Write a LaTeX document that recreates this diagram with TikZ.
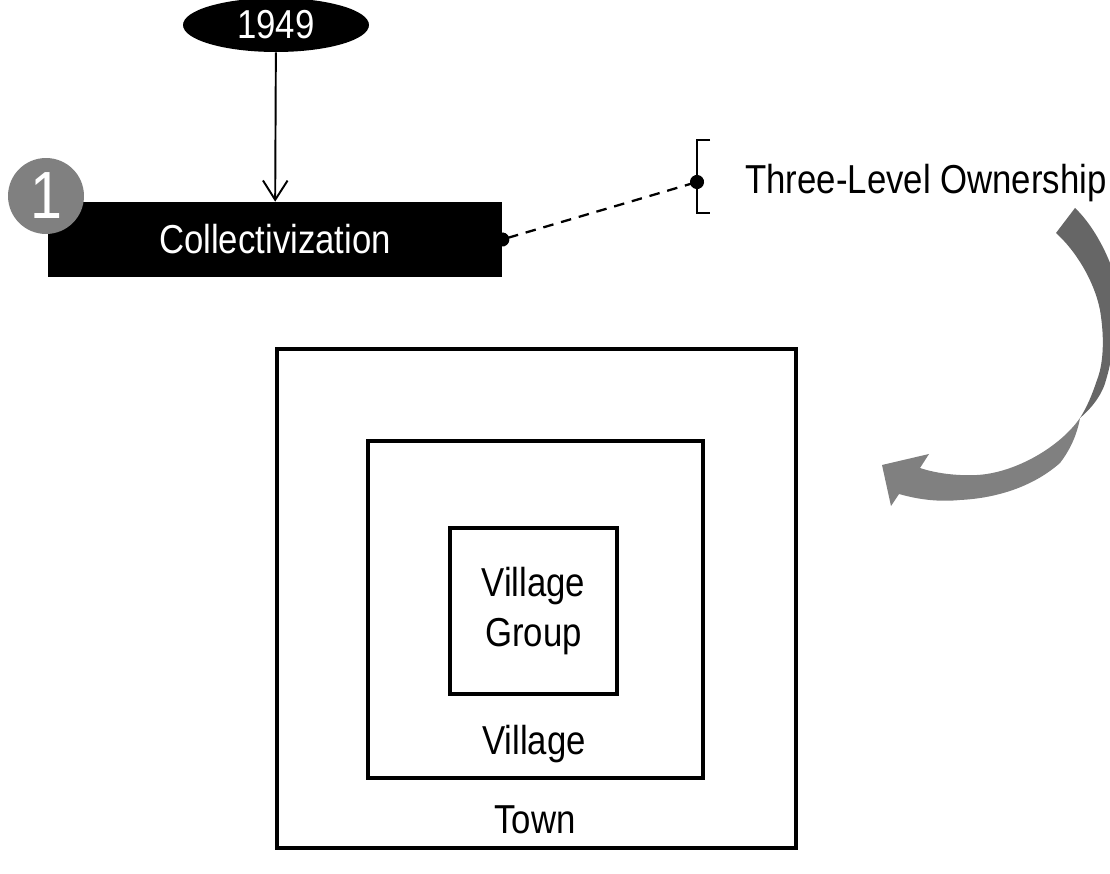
\documentclass[tikz,border=0pt]{standalone}
\usepackage{fontspec}
\setmainfont[FakeStretch=0.86]{Liberation Sans}
\usetikzlibrary{shapes, arrows.meta, positioning}
\definecolor{stepgray}{HTML}{808080}
\definecolor{arrowdark}{HTML}{666666}
\definecolor{arrowlight}{HTML}{808080}
\tikzset{
    base/.style={font=\fontsize{23}{28.5}\selectfont, align=center, inner sep=0pt},
    darkbox/.style={base, rectangle, fill=black, text=white, minimum width=9.08cm, minimum height=1.5cm},
    darkoval/.style={base, ellipse, fill=black, text=white, minimum width=3.72cm, minimum height=1.08cm},
    numdot/.style={base, circle, fill=stepgray, text=white, minimum size=1.52cm, font=\fontsize{38}{38}\selectfont},
    square/.style={base, rectangle, draw=black, line width=2.3pt},
    line/.style={draw=black, line width=1.1pt, -{Straight Barb[length=11pt, width=14pt]}},
    dashed-line/.style={draw=black, line width=1.3pt, dash pattern=on 6pt off 4.5pt,
        {Circle[length=8pt]}-{Circle[length=8pt]}, shorten <=-4pt, shorten >=-4pt},
    bracket/.style={draw=black, line width=1.2pt}
}
\begin{document}
\begin{tikzpicture}[x=0.02cm, y=-0.02cm]
    \useasboundingbox (0,0) rectangle (1110,874);

    % top: year, step and ownership note
    \node [darkoval] (Year) at (276,25) {1949};
    \node [darkbox] (Collect) at (275,239.5) {Collectivization};
    \node [numdot] (Step) at (46,196) {1};
    \draw [line] (Year) -- (Collect);

    \coordinate (brk) at (697,182);
    \draw [bracket] (710,140) -- (697,140) -- (697,213) -- (710,213);
    \node [base, anchor=west] (Own) at (745,183) {Three-Level Ownership};
    \draw [dashed-line] (Collect.east) -- (brk);

    % curved arrow (ribbon with twist)
    \begin{scope}
        \clip (0,0) rectangle (1110,874);
        \fill [arrowdark] (1056,233) .. controls (1075,250) and (1094,280) .. (1100,310)
            .. controls (1105,340) and (1103,365) .. (1097,380)
            .. controls (1092,395) and (1087,407) .. (1080,418)
            .. controls (1095,405) and (1103,392) .. (1106,380)
            .. controls (1118,340) and (1118,290) .. (1110,263)
            .. controls (1103,245) and (1090,222) .. (1075,208) -- cycle;
        \fill [arrowlight] (1080,418) .. controls (1060,447) and (1015,473) .. (977,475)
            .. controls (955,476) and (935,473) .. (920,468)
            -- (929,454) -- (882,465) -- (891,506) -- (899,494)
            .. controls (920,500) and (940,502) .. (960,500)
            .. controls (1000,498) and (1035,485) .. (1060,463)
            .. controls (1070,450) and (1077,435) .. (1080,418) -- cycle;
    \end{scope}

    % nested ownership levels
    \node [square, minimum width=10.38cm, minimum height=9.98cm] (Town) at (536.5,598.5) {};
    \node [square, minimum width=6.7cm, minimum height=6.74cm] (Village) at (535.5,609.5) {};
    \node [square, minimum width=3.34cm, minimum height=3.32cm] (Group) at (533.5,611) {Village\\Group};
    \node [base] (VillageLbl) at (534,744) {Village};
    \node [base] (TownLbl) at (535,820) {Town};
\end{tikzpicture}
\end{document}
